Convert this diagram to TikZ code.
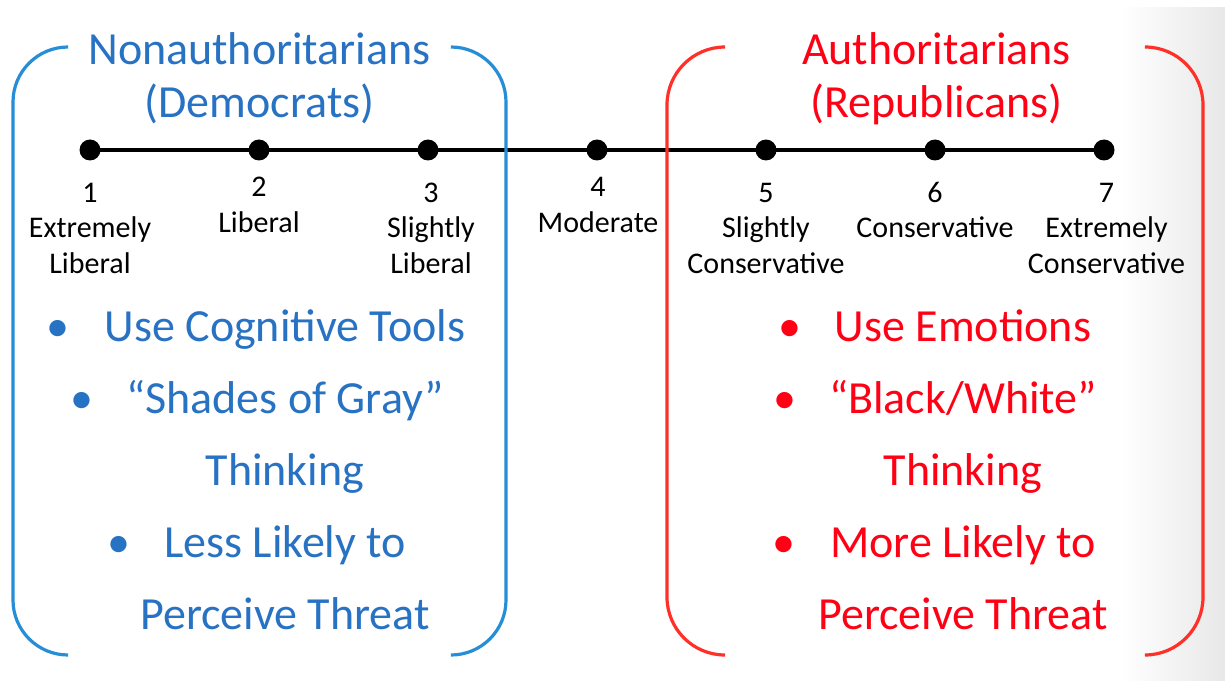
\documentclass[tikz,border=0pt]{standalone}
\usepackage{fontspec}
\setmainfont{Carlito}
\definecolor{tblue}{RGB}{40,114,196}
\definecolor{bblue}{RGB}{38,142,214}
\definecolor{tred}{RGB}{255,0,20}
\definecolor{bred}{RGB}{255,48,40}
\begin{document}
\begin{tikzpicture}[x=1bp,y=-1bp,
  lab/.style={font=\fontsize{30bp}{36bp}\selectfont, anchor=base, inner sep=0pt, text=black},
  ttl/.style={font=\fontsize{46bp}{55bp}\selectfont, anchor=base, inner sep=0pt},
  blt/.style={font=\fontsize{46bp}{55bp}\selectfont, anchor=base, inner sep=0pt},
  tdot/.style={circle, fill=black, minimum size=21bp, inner sep=0pt},
  bracket/.style={line width=3.2bp, line cap=butt}]
\useasboundingbox (0,0) rectangle (1225,681);
\fill[white] (0,0) rectangle (1225,681);
\shade[left color=white, right color=black!9] (1120,8) rectangle (1225,681);

% timeline
\node[tdot] (d1) at (90,150) {};
\node[tdot] (d2) at (259,150) {};
\node[tdot] (d3) at (428,150) {};
\node[tdot] (d4) at (597,150) {};
\node[tdot] (d5) at (766,150) {};
\node[tdot] (d6) at (935,150) {};
\node[tdot] (d7) at (1104,150) {};
\draw[line width=4bp] (d1.center) -- (d7.center);

% scale labels
\node[lab] (n1) at (90,202.5) {1};
\node[lab] (n1a) at (90,238) {Extremely};
\node[lab] (n1b) at (90,273.5) {Liberal};
\node[lab] (n2) at (259,197) {2};
\node[lab] (n2a) at (259,233) {Liberal};
\node[lab] (n3) at (431,202.5) {3};
\node[lab] (n3a) at (431,238) {Slightly};
\node[lab] (n3b) at (431,273.5) {Liberal};
\node[lab] (n4) at (598,197) {4};
\node[lab] (n4a) at (598,233) {Moderate};
\node[lab] (n5) at (766,202.5) {5};
\node[lab] (n5a) at (766,238) {Slightly};
\node[lab] (n5b) at (766,273.5) {Conservative};
\node[lab] (n6) at (935,202.5) {6};
\node[lab] (n6a) at (935,238) {Conservative};
\node[lab] (n7) at (1106.5,202.5) {7};
\node[lab] (n7a) at (1106.5,238) {Extremely};
\node[lab] (n7b) at (1106.5,273.5) {Conservative};

% titles
\node[ttl, text=tblue] (tl1) at (259.5,65) {Nonauthoritarians};
\node[ttl, text=tblue] (tl2) at (259.5,118) {(Democrats)};
\node[ttl, text=tred] (tr1) at (936.5,65) {Authoritarians};
\node[ttl, text=tred] (tr2) at (936.5,118) {(Republicans)};

% blue bullets
\node[blt, text=tblue] (bb1) at (58,341) {•};
\node[blt, text=tblue] (bl1) at (285,341) {Use Cognitive Tools};
\node[blt, text=tblue] (bb2) at (82,413) {•};
\node[blt, text=tblue] (bl2) at (285,413) {“Shades of Gray”};
\node[blt, text=tblue] (bl3) at (285,485) {Thinking};
\node[blt, text=tblue] (bb3) at (119,557) {•};
\node[blt, text=tblue] (bl4) at (285,557) {Less Likely to};
\node[blt, text=tblue] (bl5) at (285,629) {Perceive Threat};

% red bullets
\node[blt, text=tred] (rb1) at (790,341) {•};
\node[blt, text=tred] (rl1) at (963,341) {Use Emotions};
\node[blt, text=tred] (rb2) at (785,413) {•};
\node[blt, text=tred] (rl2) at (963,413) {“Black/White”};
\node[blt, text=tred] (rl3) at (963,485) {Thinking};
\node[blt, text=tred] (rb3) at (784,557) {•};
\node[blt, text=tred] (rl4) at (963,557) {More Likely to};
\node[blt, text=tred] (rl5) at (963,629) {Perceive Threat};

% brackets
\draw[bblue, bracket, rounded corners=55bp] (68,47) -- (13,47) -- (13,655) -- (68,655);
\draw[bblue, bracket, rounded corners=55bp] (451,47) -- (506,47) -- (506,655) -- (451,655);
\draw[bred, bracket, rounded corners=58bp] (725,47) -- (667,47) -- (667,655) -- (725,655);
\draw[bred, bracket, rounded corners=58bp] (1145,47) -- (1203,47) -- (1203,655) -- (1145,655);
\end{tikzpicture}
\end{document}
